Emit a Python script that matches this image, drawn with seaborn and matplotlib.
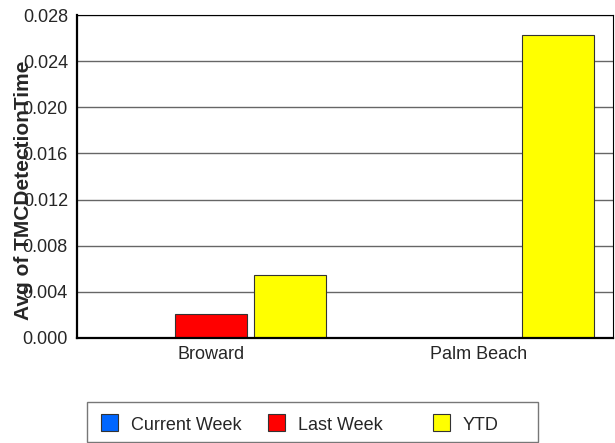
import numpy as np
import pandas as pd
import matplotlib
matplotlib.use("Agg")
import matplotlib.pyplot as plt
from matplotlib.patches import Rectangle
import seaborn as sns

# chart data
regions = ["Broward", "Palm Beach"]
periods = ["Current Week", "Last Week", "YTD"]
current_week = [0.0, 0.0]
last_week = [0.0021, 0.0]
ytd = [0.0055, 0.0263]
colors = ["#0066FF", "#FF0000", "#FFFF00"]
yticks = [0.000, 0.004, 0.008, 0.012, 0.016, 0.020, 0.024, 0.028]

df = pd.DataFrame({
    "Region": regions * 3,
    "Period": [p for p in periods for _ in regions],
    "Value": current_week + last_week + ytd,
})

sns.set_style("white")
plt.rcParams["font.family"] = ["Liberation Sans", "DejaVu Sans"]

W, H = 615, 443
fig = plt.figure(figsize=(W / 100, H / 100), dpi=100)
ax = fig.add_axes([77 / W, 1 - 338 / H, 536 / W, 323 / H])

ax.set_axisbelow(True)
ax.yaxis.grid(True, color="#666666", linewidth=1.0)

sns.barplot(data=df, x="Region", y="Value", hue="Period", hue_order=periods,
            palette=colors, saturation=1, width=0.885, gap=0.085,
            edgecolor="#333333", linewidth=0.8, ax=ax, legend=False)

# zero-height bars would show up as stray edge lines
for patch in ax.patches:
    if patch.get_height() == 0:
        patch.set_visible(False)

ax.set_xlim(-0.5, 1.5)
ax.set_ylim(0, 0.028)
ax.set_yticks(yticks)
ax.set_yticklabels([f"{t:.3f}" for t in yticks], fontsize=13)
ax.tick_params(axis="y", length=0, pad=6.5)
ax.tick_params(axis="x", length=0, pad=5.5, labelsize=13)

ax.set_xlabel("")
ax.set_ylabel("Avg of TMCDetectionTime", fontsize=15, fontweight="bold")
ax.yaxis.set_label_coords(-0.083, 0.458)

for side in ["top", "right"]:
    ax.spines[side].set_color("black")
    ax.spines[side].set_linewidth(0.8)
for side in ["left", "bottom"]:
    ax.spines[side].set_color("black")
    ax.spines[side].set_linewidth(1.6)


def fx(x):
    return x / W


def fy(y):
    return 1 - y / H


# legend box drawn by hand to keep the uneven column spacing of the original
fig.add_artist(Rectangle((fx(87), fy(442)), fx(538) - fx(87), fy(402) - fy(442),
                         transform=fig.transFigure, facecolor="white",
                         edgecolor="#777777", linewidth=1.0))
for label, color, x0 in zip(periods, colors, [101, 268, 433]):
    fig.add_artist(Rectangle((fx(x0), fy(431)), fx(17), 17 / H,
                             transform=fig.transFigure, facecolor=color,
                             edgecolor="#333333", linewidth=0.8))
    fig.text(fx(x0 + 30), fy(423), label, fontsize=13, ha="left", va="center_baseline")

fig.savefig("out.png", dpi=100)
